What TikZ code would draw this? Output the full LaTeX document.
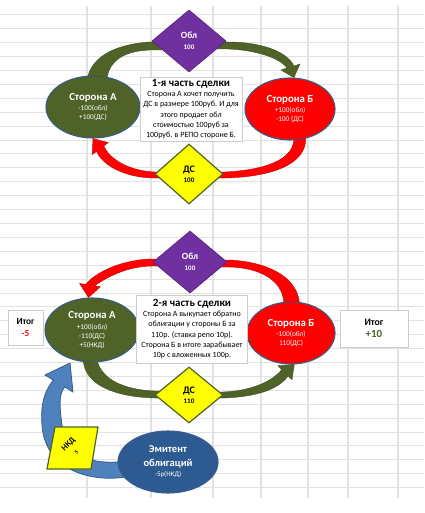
\documentclass[tikz,border=0pt]{standalone}
\usepackage{fontspec}
\setmainfont{Carlito}
\usetikzlibrary{shapes.geometric,calc}
\definecolor{olv}{HTML}{4F6228}
\definecolor{olvD}{HTML}{3E4D1F}
\definecolor{edgeB}{HTML}{385D8A}
\definecolor{purp}{HTML}{7030A0}
\definecolor{ylw}{HTML}{FFFF00}
\definecolor{emb}{HTML}{2D5A91}
\definecolor{arrB}{HTML}{4F81BD}
\definecolor{redD}{HTML}{C00000}
\definecolor{gridc}{HTML}{E2E2E2}
\pgfdeclarelayer{gridl}\pgfdeclarelayer{low}\pgfdeclarelayer{top}
\pgfsetlayers{gridl,low,main,top}
\newcommand\hT{\bfseries\fontsize{10.8}{12}\selectfont}
\newcommand\hNt{\bfseries\fontsize{11}{12}\selectfont}
\tikzset{
  party/.style={ellipse, draw=edgeB, line width=1.1pt, text=white, align=center, inner sep=0pt,
    font=\fontsize{7.3}{9}\selectfont},
  oblbox/.style={diamond, fill=purp, draw=purp!80!black, line width=0.8pt, text=white, align=center,
    inner sep=0pt, minimum width=74pt, minimum height=62pt, font=\bfseries\fontsize{7}{11}\selectfont},
  dsbox/.style={diamond, fill=ylw, draw=olv, line width=1.2pt, align=center, inner sep=0pt,
    font=\bfseries\fontsize{7}{10}\selectfont},
  note/.style={rectangle, fill=white, draw=black!20, line width=0.6pt, align=center, inner sep=1pt,
    font=\fontsize{8}{10.3}\selectfont},
  ribO/.style={fill=olv, draw=olvD, line width=0.4pt},
  ribR/.style={fill=red, draw=redD, line width=0.4pt},
  ribB/.style={fill=arrB, draw=edgeB, line width=0.8pt},
}
\begin{document}
\begin{tikzpicture}[x=1pt,y=-1pt]
\useasboundingbox (0,0) rectangle (424,513);
\begin{pgfonlayer}{gridl}
  \fill[white] (0,0) rectangle (424,513);
  \foreach \k in {0,...,34} \draw[gridc, line width=1pt] (0,{15+13.9*\k}) -- (424,{15+13.9*\k});
  \foreach \x in {87,151,213,261,308,348,398} \draw[gridc, line width=1.2pt] (\x,6) -- (\x,498);
\end{pgfonlayer}
% ellipses for the two parties
\begin{pgfonlayer}{low}
  \node[party, fill=olv, minimum width=94pt, minimum height=62pt] (A1) at (93,107)
    {{\hT Сторона А}\\[1.5pt]-100(обл)\\+100(ДС)};
  \node[party, fill=red, minimum width=90pt, minimum height=62pt] (B1) at (290,109)
    {{\hT Сторона Б}\\[1.5pt]+100(обл)\\-100 (ДС)};
  \node[party, fill=olv, minimum width=94pt, minimum height=64pt] (A2) at (92,330)
    {{\hT Сторона А}\\[1.5pt]+100(обл)\\-110(ДС)\\+5(НКД)};
  \node[party, fill=red, minimum width=88pt, minimum height=62pt] (B2) at (291,333)
    {{\hT Сторона Б}\\[1.5pt]-100(обл)\\110(ДС)};
\end{pgfonlayer}
% other nodes
\begin{pgfonlayer}{top}
  \node[oblbox] (obl1) at (189,41) {{\fontsize{9.5}{10}\selectfont Обл}\\100};
  \node[dsbox, minimum width=68pt, minimum height=60pt] (ds1) at (189,174) {{\fontsize{10}{11}\selectfont ДС}\\100};
  \node[note, minimum width=102pt, minimum height=64pt] (t1) at (191,109)
    {{\hNt 1-я часть сделки}\\Сторона А хочет получить\\ДС в размере 100руб. И для\\этого продает обл\\стоимостью 100руб за\\100руб. в РЕПО стороне Б.};
  \node[oblbox] (obl2) at (190,262) {{\fontsize{9.5}{10}\selectfont Обл}\\100};
  \node[dsbox, minimum width=68pt, minimum height=56pt] (ds2) at (189,395) {{\fontsize{10}{11}\selectfont ДС}\\110};
  \node[note, minimum width=111pt, minimum height=68pt] (t2) at (192,329)
    {{\hNt 2-я часть сделки}\\Сторона А выкупает обратно\\облигации у стороны Б за\\110р. (ставка репо 10р).\\Сторона Б в итоге зарабывает\\10р с вложенных 100р.};
  \node[note, minimum width=35pt, minimum height=35pt, font=\bfseries\fontsize{9.3}{12.5}\selectfont] (itL) at (25.5,327.5)
    {Итог\\\textcolor{red}{-5}};
  \node[note, minimum width=68pt, minimum height=37pt, font=\bfseries\fontsize{9.8}{12.5}\selectfont] (itR) at (374,328.5)
    {Итог\\{\fontsize{11}{12}\selectfont\textcolor{olv}{+10}}};
  \node[ellipse, fill=emb, draw=edgeB, line width=1.1pt, text=white, align=center, inner sep=0pt,
    minimum width=100pt, minimum height=62pt, font=\bfseries\fontsize{10.5}{13.5}\selectfont] (em) at (168,462)
    {Эмитент\\облигаций\\[-3pt]{\mdseries\fontsize{7}{8}\selectfont -5р(НКД)}};
  \filldraw[fill=ylw, draw=olv, line width=1.2pt] (55,427) -- (98,427) -- (91,469) -- (47,469) -- cycle;
  \node[rotate=45, align=center, inner sep=0pt, font=\bfseries\fontsize{8.3}{8}\selectfont] (nkd) at (72,448)
    {НКД\\[2.5pt]{\fontsize{5.5}{6}\selectfont 5}};
\end{pgfonlayer}
\coordinate (ntip) at (70,363);
% first part: olive (bond) and red (cash) ribbons
\fill[ribO] (A1.99) .. controls (94,55) and (118,44) .. (150,42) -- (170,42) -- (170,50) -- (150,50)
  .. controls (122,51) and (110,62) .. (A1.65) -- cycle;
\fill[ribO] (208,42) -- (228,42) .. controls (258,42) and (286,50) .. (294,66) -- (300,64) -- (B1.83)
  -- (281,70) -- (287,68) .. controls (280,58) and (256,50) .. (228,49) -- (208,49) -- cycle;
\fill[ribR] (B1.-62) .. controls (306,165) and (270,177) .. (225,178) -- (205,178) -- (205,172) -- (225,172)
  .. controls (265,170) and (292,160) .. (B1.-83) -- cycle;
\fill[ribR] (170,178) -- (155,178) .. controls (125,178) and (102,165) .. (96.6,151.3) -- (92.2,154.6)
  -- (A1.-90) -- (108.2,142.6) -- (103.8,145.9) .. controls (110,160) and (130,171) .. (155,172) -- (170,172) -- cycle;
% second part
\fill[ribR] (B2.75) .. controls (296,275) and (265,262) .. (230,260) -- (210,260) -- (210,267) -- (230,267)
  .. controls (260,268) and (282,280) .. (B2.103) -- cycle;
\fill[ribR] (170,259) -- (153,259) .. controls (130,259) and (100,268) .. (85.5,284.4) -- (79.6,283.5)
  -- (A2.96) -- (100.4,286.7) -- (94.5,285.8) .. controls (110,275) and (130,266) .. (153,266) -- (170,266) -- cycle;
\fill[ribO] (A2.-105) .. controls (86,385) and (115,397) .. (155,398) -- (172,398) -- (172,391) -- (155,391)
  .. controls (125,390) and (103,380) .. (A2.-80) -- cycle;
\fill[ribO] (205,398) -- (223,398) .. controls (255,397) and (278,390) .. (288.1,375.9) -- (292,379.7)
  -- (B2.-84) -- (277.8,365.7) -- (281.7,369.6) .. controls (272,382) and (250,391) .. (223,392) -- (205,392) -- cycle;
% coupon arrow from issuer
\filldraw[ribB] (em.199) .. controls (90,482) and (45,470) .. (42,425) .. controls (40,400) and (47,388) .. (53.4,380.1)
  -- (45,375) -- (ntip) -- (73,392) -- (64.6,386.9) .. controls (58,395) and (60,410) .. (62,425)
  .. controls (66,452) and (85,464) .. (em.west) -- cycle;
\end{tikzpicture}
\end{document}
